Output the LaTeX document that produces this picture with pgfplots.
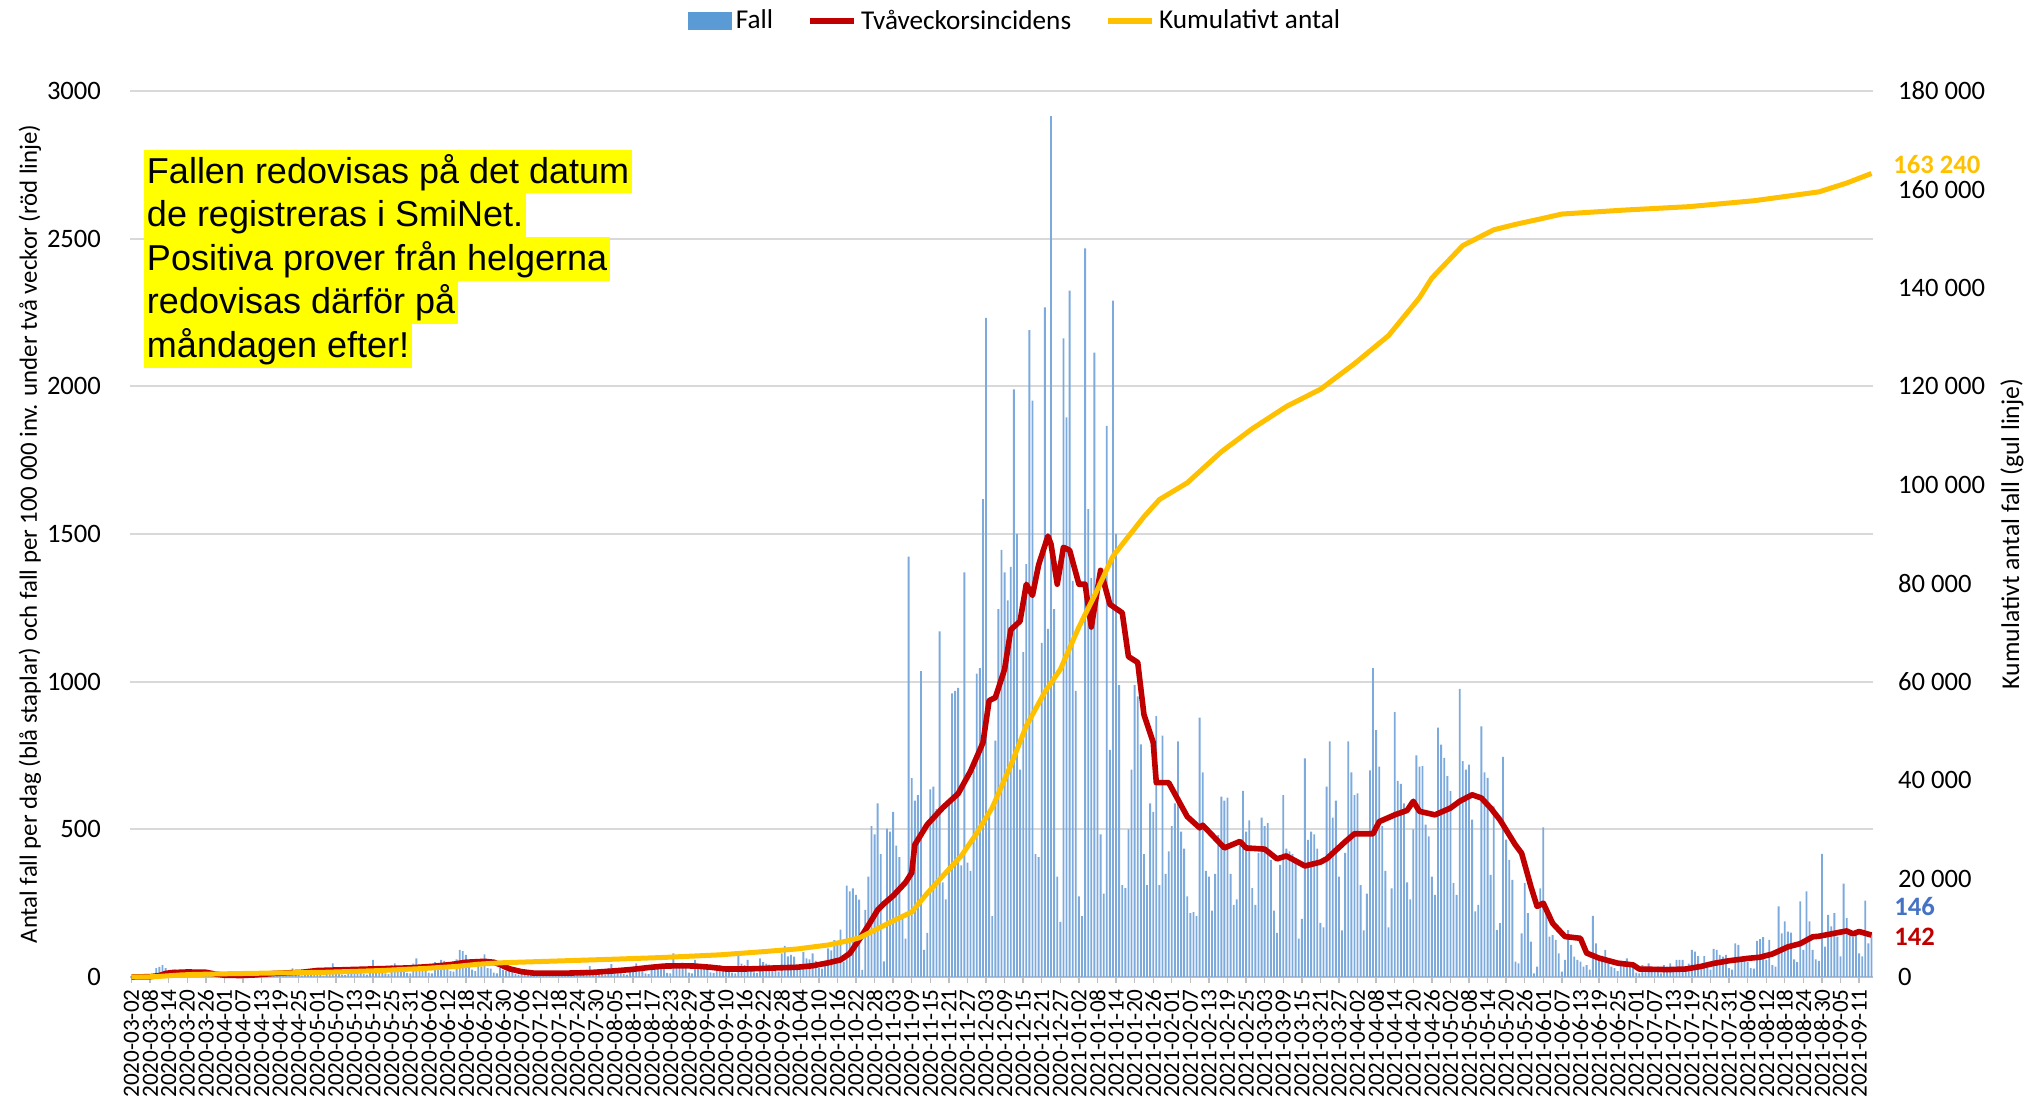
\documentclass[border=0pt]{standalone}
\usepackage{fontspec}
\setmainfont{Carlito}
\newfontfamily\arialfont{Liberation Sans}
\usepackage{pgfplots}
\pgfplotsset{compat=1.18}
\definecolor{barblue}{HTML}{5B9BD5}
\definecolor{barfill}{HTML}{7DAADC}
\definecolor{linered}{HTML}{C00000}
\definecolor{lineyel}{HTML}{FFC000}
\definecolor{gridgray}{HTML}{D9D9D9}
\definecolor{axgray}{HTML}{BFBFBF}
\definecolor{lblblue}{HTML}{4472C4}
\definecolor{hl}{HTML}{FFFF00}
\newcommand\annot{\arialfont\fontsize{18}{21.8}\selectfont}
\begin{document}
\begin{tikzpicture}
\begin{axis}[
  at={(0pt,0pt)}, anchor=south west,
  scale only axis, width=871.5pt, height=443pt,
  xmin=-0.5, xmax=562.5, ymin=0, ymax=3000,
  clip=false,
  axis x line*=bottom, axis y line*=left,
  x axis line style={draw=axgray, line width=0.8pt},
  y axis line style={draw=none},
  ytick={0,500,...,3000},
  ymajorgrids, grid style={draw=gridgray, line width=0.9pt},
  ytick style={draw=none},
  /pgf/number format/1000 sep={},
  /pgf/number format/assume math mode=true,
  yticklabel style={font=\fontsize{13.3}{15}\selectfont, xshift=-8pt},
  tick align=outside,
  xtick={0,6,...,558},
  xtick style={draw=axgray, line width=0.7pt},
  major tick length=3pt,
  xticklabels={2020-03-02,2020-03-08,2020-03-14,2020-03-20,2020-03-26,2020-04-01,2020-04-07,2020-04-13,2020-04-19,2020-04-25,2020-05-01,2020-05-07,2020-05-13,2020-05-19,2020-05-25,2020-05-31,2020-06-06,2020-06-12,2020-06-18,2020-06-24,2020-06-30,2020-07-06,2020-07-12,2020-07-18,2020-07-24,2020-07-30,2020-08-05,2020-08-11,2020-08-17,2020-08-23,2020-08-29,2020-09-04,2020-09-10,2020-09-16,2020-09-22,2020-09-28,2020-10-04,2020-10-10,2020-10-16,2020-10-22,2020-10-28,2020-11-03,2020-11-09,2020-11-15,2020-11-21,2020-11-27,2020-12-03,2020-12-09,2020-12-15,2020-12-21,2020-12-27,2021-01-02,2021-01-08,2021-01-14,2021-01-20,2021-01-26,2021-02-01,2021-02-07,2021-02-13,2021-02-19,2021-02-25,2021-03-03,2021-03-09,2021-03-15,2021-03-21,2021-03-27,2021-04-02,2021-04-08,2021-04-14,2021-04-20,2021-04-26,2021-05-02,2021-05-08,2021-05-14,2021-05-20,2021-05-26,2021-06-01,2021-06-07,2021-06-13,2021-06-19,2021-06-25,2021-07-01,2021-07-07,2021-07-13,2021-07-19,2021-07-25,2021-07-31,2021-08-06,2021-08-12,2021-08-18,2021-08-24,2021-08-30,2021-09-05,2021-09-11},
  xticklabel style={rotate=90, anchor=east, font=\fontsize{11.6}{13}\selectfont, inner sep=3pt},
  legend style={at={(0.5083,1.079)}, anchor=center, draw=none, fill=none,
    font=\fontsize{13.6}{15}\selectfont, inner sep=0pt,
    /tikz/every even column/.append style={column sep=15pt}},
  legend columns=3, legend cell align=left,
]
\addplot[ybar, bar width=0.6, fill=barfill, draw=none,
  legend image code/.code={\fill[barblue] (0pt,-4.3pt) rectangle (22pt,4.3pt);}]
coordinates {
(0,0)(1,0)(2,1)(3,2)(4,3)(5,4)(6,2)(7,10)(8,30)(9,34)
(10,40)(11,30)(12,15)(13,12)(14,25)(15,22)(16,20)(17,18)(18,15)(19,6)
(20,5)(21,18)(22,15)(23,12)(24,14)(25,10)(26,4)(27,3)(28,12)(29,10)
(30,8)(31,10)(32,9)(33,3)(34,2)(35,14)(36,12)(37,10)(38,9)(39,8)
(40,4)(41,3)(42,15)(43,12)(44,11)(45,10)(46,12)(47,5)(48,4)(49,18)
(50,14)(51,12)(52,29)(53,15)(54,6)(55,5)(56,20)(57,18)(58,16)(59,15)
(60,14)(61,6)(62,5)(63,25)(64,22)(65,46)(66,20)(67,18)(68,8)(69,6)
(70,30)(71,26)(72,24)(73,22)(74,20)(75,10)(76,8)(77,35)(78,58)(79,28)
(80,25)(81,24)(82,12)(83,10)(84,40)(85,46)(86,30)(87,28)(88,26)(89,14)
(90,12)(91,45)(92,63)(93,35)(94,32)(95,30)(96,15)(97,12)(98,50)(99,42)
(100,58)(101,55)(102,48)(103,20)(104,18)(105,60)(106,92)(107,88)(108,75)(109,45)
(110,25)(111,20)(112,40)(113,35)(114,77)(115,30)(116,28)(117,15)(118,12)(119,30)
(120,25)(121,22)(122,20)(123,18)(124,10)(125,8)(126,22)(127,18)(128,16)(129,15)
(130,14)(131,8)(132,7)(133,20)(134,18)(135,16)(136,14)(137,12)(138,8)(139,6)
(140,20)(141,16)(142,15)(143,14)(144,12)(145,7)(146,6)(147,25)(148,37)(149,22)
(150,20)(151,18)(152,9)(153,8)(154,30)(155,44)(156,25)(157,22)(158,20)(159,10)
(160,8)(161,32)(162,28)(163,46)(164,25)(165,22)(166,12)(167,10)(168,40)(169,42)
(170,38)(171,30)(172,28)(173,14)(174,12)(175,80)(176,45)(177,40)(178,35)(179,30)
(180,15)(181,12)(182,58)(183,42)(184,38)(185,35)(186,32)(187,16)(188,14)(189,37)
(190,40)(191,35)(192,32)(193,28)(194,15)(195,12)(196,71)(197,45)(198,40)(199,58)
(200,35)(201,16)(202,14)(203,63)(204,50)(205,45)(206,42)(207,40)(208,20)(209,18)
(210,80)(211,105)(212,70)(213,75)(214,69)(215,30)(216,25)(217,85)(218,63)(219,60)
(220,80)(221,55)(222,30)(223,28)(224,55)(225,97)(226,90)(227,125)(228,110)(229,160)
(230,50)(231,309)(232,290)(233,300)(234,278)(235,262)(236,24)(237,227)(238,340)(239,511)
(240,483)(241,588)(242,416)(243,53)(244,502)(245,492)(246,559)(247,445)(248,406)(249,200)
(250,130)(251,1423)(252,673)(253,597)(254,616)(255,1036)(256,92)(257,149)(258,635)(259,645)
(260,569)(261,1170)(262,320)(263,263)(264,600)(265,960)(266,969)(267,979)(268,378)(269,1370)
(270,387)(271,359)(272,700)(273,1027)(274,1046)(275,1618)(276,2232)(277,550)(278,206)(279,800)
(280,1246)(281,1446)(282,1370)(283,1275)(284,1389)(285,1990)(286,1500)(287,702)(288,1100)(289,1398)
(290,2190)(291,1952)(292,416)(293,406)(294,1131)(295,2267)(296,1179)(297,2915)(298,1246)(299,340)
(300,187)(301,2162)(302,1895)(303,2324)(304,1341)(305,969)(306,273)(307,206)(308,2467)(309,1584)
(310,1351)(311,2114)(312,1294)(313,483)(314,282)(315,1866)(316,769)(317,2290)(318,1500)(319,988)
(320,311)(321,301)(322,500)(323,702)(324,988)(325,950)(326,788)(327,416)(328,311)(329,588)
(330,559)(331,883)(332,311)(333,817)(334,349)(335,425)(336,511)(337,588)(338,798)(339,492)
(340,435)(341,273)(342,216)(343,220)(344,206)(345,878)(346,693)(347,359)(348,340)(349,225)
(350,349)(351,480)(352,611)(353,597)(354,607)(355,349)(356,244)(357,263)(358,445)(359,630)
(360,492)(361,530)(362,301)(363,244)(364,420)(365,540)(366,511)(367,521)(368,397)(369,225)
(370,149)(371,380)(372,616)(373,435)(374,425)(375,416)(376,397)(377,130)(378,197)(379,740)
(380,464)(381,492)(382,483)(383,435)(384,183)(385,168)(386,645)(387,798)(388,540)(389,597)
(390,340)(391,158)(392,420)(393,798)(394,693)(395,616)(396,622)(397,311)(398,158)(399,282)
(400,700)(401,1046)(402,836)(403,712)(404,511)(405,359)(406,168)(407,300)(408,897)(409,664)
(410,654)(411,588)(412,320)(413,263)(414,500)(415,750)(416,712)(417,714)(418,516)(419,476)
(420,340)(421,278)(422,844)(423,787)(424,742)(425,680)(426,629)(427,318)(428,278)(429,976)
(430,731)(431,702)(432,719)(433,533)(434,222)(435,244)(436,849)(437,693)(438,674)(439,346)
(440,578)(441,159)(442,182)(443,745)(444,465)(445,397)(446,329)(447,52)(448,46)(449,148)
(450,318)(451,216)(452,120)(453,12)(454,35)(455,300)(456,507)(457,222)(458,137)(459,142)
(460,126)(461,80)(462,18)(463,58)(464,159)(465,109)(466,69)(467,58)(468,52)(469,35)
(470,40)(471,25)(472,207)(473,114)(474,70)(475,60)(476,92)(477,52)(478,35)(479,30)
(480,20)(481,55)(482,45)(483,63)(484,40)(485,35)(486,15)(487,12)(488,40)(489,35)
(490,46)(491,30)(492,25)(493,35)(494,12)(495,40)(496,35)(497,46)(498,30)(499,58)
(500,58)(501,58)(502,30)(503,45)(504,92)(505,86)(506,71)(507,40)(508,71)(509,30)
(510,25)(511,95)(512,92)(513,75)(514,69)(515,75)(516,30)(517,25)(518,114)(519,109)
(520,60)(521,69)(522,50)(523,30)(524,28)(525,122)(526,128)(527,135)(528,58)(529,126)
(530,40)(531,35)(532,239)(533,148)(534,188)(535,154)(536,150)(537,60)(538,50)(539,256)
(540,92)(541,290)(542,188)(543,92)(544,60)(545,55)(546,417)(547,103)(548,210)(549,171)
(550,216)(551,137)(552,70)(553,316)(554,199)(555,148)(556,137)(557,148)(558,80)(559,70)
(560,259)(561,114)(562,146)
};
\addlegendentry{Fall}
\addplot[linered, line width=2.8pt, line join=round,
  legend image code/.code={\draw[linered, line width=3pt] (0pt,0pt) -- (22pt,0pt);}]
coordinates {
(0,0)(6,1)(9,5)(11,12)(13,15)(18,17)(24,16)(27,10)(30,6)(35,5)(40,7)(46,12)(55,16)
(60,22)(70,25)(80,28)(90,31)(97,36)(103,42)(108,50)(114,53)(117,50)(119,42)(122,28)
(126,18)(130,13)(140,13)(148,15)(155,20)(161,25)(167,32)(172,37)(178,38)(182,37)
(187,33)(192,27)(198,27)(204,29)(209,31)(215,33)(220,38)(225,48)(229,58)(232,80)
(235,126)(238,175)(241,227)(243,248)(246,275)(250,320)(252,353)(253,448)(257,516)
(262,573)(267,621)(271,697)(275,793)(277,936)(279,946)(282,1042)(284,1176)(287,1205)
(289,1330)(291,1292)(293,1396)(296,1493)(297,1465)(299,1330)(301,1455)(303,1445)
(306,1330)(308,1330)(310,1185)(313,1377)(316,1262)(320,1233)(322,1085)(325,1065)
(327,889)(330,794)(331,658)(335,658)(341,543)(345,505)(346,514)(353,437)(358,459)
(360,437)(366,433)(370,400)(373,410)(379,376)(384,389)(386,400)(392,458)(395,485)
(401,485)(403,526)(408,549)(412,564)(414,595)(416,561)(421,549)(426,572)(429,595)
(433,617)(436,606)(439,572)(442,532)(447,447)(449,419)(452,306)(454,239)(456,250)
(459,182)(463,137)(468,131)(470,81)(474,64)(480,47)(485,41)(487,27)(496,25)(502,27)
(507,36)(511,46)(516,55)(522,63)(526,67)(530,78)(535,102)(539,113)(543,136)(545,138)
(549,146)(554,156)(556,146)(558,154)(562,142)
};
\addlegendentry{Tvåveckorsincidens}
\addlegendimage{lineyel, line width=2.5pt,
  legend image code/.code={\draw[lineyel, line width=3pt] (0pt,0pt) -- (22pt,0pt);}}
\addlegendentry{Kumulativt antal}
% annotation
\node[anchor=north west, fill=hl, inner xsep=1.3pt, inner ysep=0pt, text height=16.6pt, text depth=5.2pt, font=\annot] at ([xshift=7pt,yshift=-29.25pt]axis description cs:0,1) {Fallen redovisas på det datum\ };
\node[anchor=north west, fill=hl, inner xsep=1.3pt, inner ysep=0pt, text height=16.6pt, text depth=5.2pt, font=\annot] at ([xshift=7pt,yshift=-51.05pt]axis description cs:0,1) {de registreras i SmiNet.};
\node[anchor=north west, fill=hl, inner xsep=1.3pt, inner ysep=0pt, text height=16.6pt, text depth=5.2pt, font=\annot] at ([xshift=7pt,yshift=-72.85pt]axis description cs:0,1) {Positiva prover från helgerna\ };
\node[anchor=north west, fill=hl, inner xsep=1.3pt, inner ysep=0pt, text height=16.6pt, text depth=5.2pt, font=\annot] at ([xshift=7pt,yshift=-94.65pt]axis description cs:0,1) {redovisas därför på\ };
\node[anchor=north west, fill=hl, inner xsep=1.3pt, inner ysep=0pt, text height=16.6pt, text depth=5.2pt, font=\annot] at ([xshift=7pt,yshift=-116.45pt]axis description cs:0,1) {måndagen efter!};
% axis titles
\node[rotate=90, font=\fontsize{12.4}{14}\selectfont] at ([xshift=-50pt]axis description cs:0,0.5) {Antal fall per dag (blå staplar) och fall per 100 000 inv. under två veckor (röd linje)};
\node[rotate=90, font=\fontsize{12.8}{14}\selectfont] at ([xshift=69.5pt]axis description cs:1,0.5) {Kumulativt antal fall (gul linje)};
% end labels
\node[anchor=west, inner sep=0pt, text=lineyel, font=\fontsize{13.3}{15}\selectfont\bfseries] at ([xshift=10pt]axis description cs:1,0.9165) {163 240};
\node[anchor=west, inner sep=0pt, text=lblblue, font=\fontsize{13.3}{15}\selectfont\bfseries] at ([xshift=10.5pt]axis description cs:1,0.079) {146};
\node[anchor=west, inner sep=0pt, text=linered, font=\fontsize{13.3}{15}\selectfont\bfseries] at ([xshift=10.5pt]axis description cs:1,0.0451) {142};
\end{axis}
\begin{axis}[
  at={(0pt,0pt)}, anchor=south west,
  scale only axis, width=871.5pt, height=443pt,
  xmin=-0.5, xmax=562.5, ymin=0, ymax=180000,
  clip=false,
  hide x axis,
  axis y line*=right,
  y axis line style={draw=none},
  ytick style={draw=none},
  scaled y ticks=false,
  ytick={0,20000,40000,60000,80000,100000,120000,140000,160000,180000},
  yticklabels={0,20 000,40 000,60 000,80 000,100 000,120 000,140 000,160 000,180 000},
  yticklabel style={font=\fontsize{13.3}{15}\selectfont, anchor=west, xshift=9pt},
]
\addplot[lineyel, line width=2.5pt, line join=round] coordinates {
(0,0)(4,20)(8,80)(12,250)(16,420)(20,520)(30,650)(45,800)(62,950)(80,1300)(95,1750)
(105,2150)(112,2600)(120,2900)(130,3100)(140,3300)(155,3600)(171,3950)(190,4500)
(204,5150)(215,5700)(225,6500)(231,7300)(235,7950)(240,9500)(246,11400)(252,13200)
(257,17000)(262,20500)(268,24600)(273,29200)(278,34400)(284,43000)(289,51000)
(295,57900)(300,62500)(306,71100)(311,77400)(317,85500)(322,89500)(327,93500)
(332,97000)(341,100400)(352,106700)(362,111400)(373,115900)(384,119400)(395,124600)
(406,130300)(416,138000)(420,142000)(430,148600)(440,151800)(447,152900)(455,154000)
(462,155000)(482,155800)(503,156500)(524,157700)(545,159500)(554,161300)(562,163240)
};
\end{axis}
\pgfresetboundingbox
\path[use as bounding box] (-65pt,-62pt) rectangle (954pt,488.5pt);
\end{tikzpicture}
\end{document}
